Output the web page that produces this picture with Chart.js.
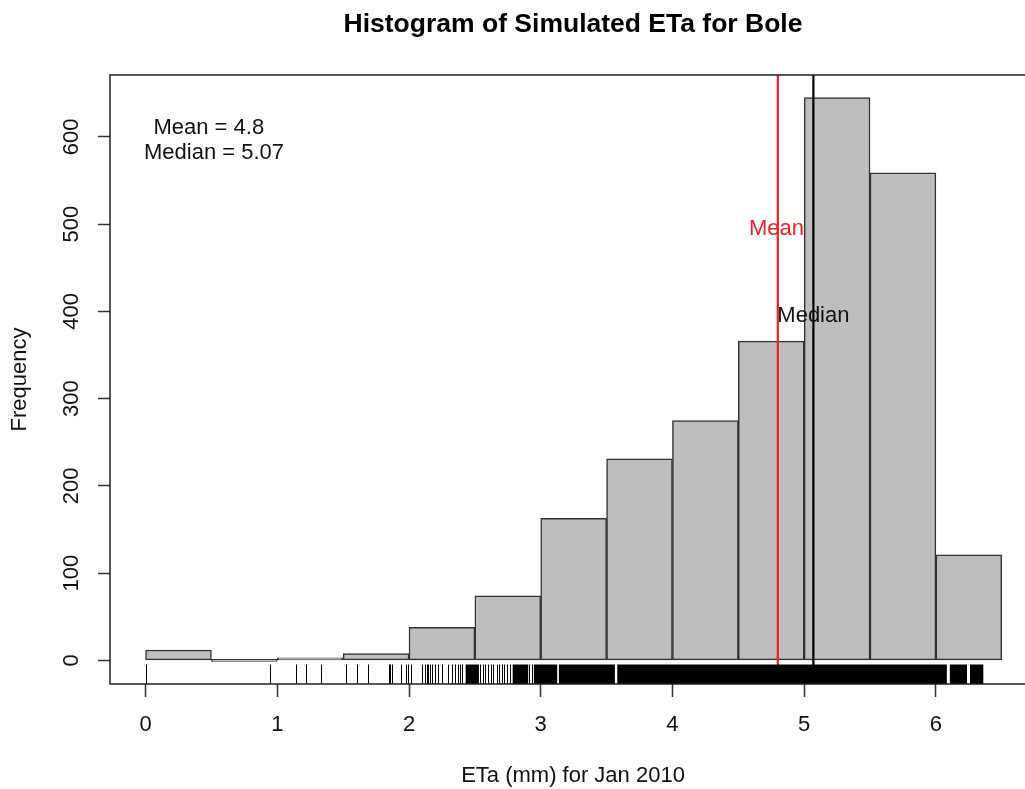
<!DOCTYPE html>
<html>
<head>
    <meta charset="utf-8">
    <title>Histogram of Simulated ETa for Bole</title>
    <style>
        html, body { margin: 0; padding: 0; overflow: hidden; background: #fff; }
    </style>
</head>
<body>

<canvas id="hist" width="1040" height="789"></canvas>

<script src="https://cdn.jsdelivr.net/npm/chart.js@4.4.0/dist/chart.umd.min.js"></script>
<script>

// histogram bins (mm) and counts
var binEdges = [0, 0.5, 1, 1.5, 2, 2.5, 3, 3.5, 4, 4.5, 5, 5.5, 6, 6.5];
var counts   = [12, 0, 3, 8, 38, 74, 163, 231, 275, 366, 645, 559, 121];

var xTicks = [0, 1, 2, 3, 4, 5, 6];
var yTicks = [0, 100, 200, 300, 400, 500, 600];
var xRange = [-0.27, 6.76];
var yRange = [-27, 671];

var meanValue = 4.8;
var medianValue = 5.07;

// single rug ticks, and stretches where the rug is solid black
var rugTicks = [0.00, 0.946, 1.141, 1.217, 1.331, 1.519, 1.602, 1.686, 1.845, 1.858, 1.873,
    1.939, 1.976, 1.994, 2.014, 2.096, 2.121, 2.134, 2.147, 2.159, 2.172, 2.197, 2.222,
    2.248, 2.298, 2.323, 2.349, 2.374, 2.389, 2.399, 2.538, 2.559, 2.579, 2.601, 2.620,
    2.640, 2.665, 2.685, 2.703, 2.723, 2.741, 2.766, 2.913, 2.931];
var rugBands = [[2.43, 2.531], [2.787, 2.905], [2.948, 3.125], [3.138, 3.563],
    [3.581, 6.083], [6.106, 6.236], [6.259, 6.36]];

// text written on the plot (y = middle of the capitals)
var noteTexts  = ['Mean = 4.8', 'Median = 5.07', 'Mean', 'Median'];
var noteX      = [0.48, 0.52, 4.79, 5.07];
var noteY      = [612.7, 583.5, 497, 397];
var noteColors = ['#111', '#111', '#ee2222', '#111'];

var titleText = 'Histogram of Simulated ETa for Bole';

var FONT = "'Liberation Sans', Arial, sans-serif";

var barData = [];
for (var i = 0; i < counts.length; i++) {
    barData.push({x: (binEdges[i] + binEdges[i + 1]) / 2, y: counts[i]});
}

var extrasPlugin = {
    id: 'extras',
    afterDatasetsDraw: function(chart) {
        var ctx = chart.ctx;
        var xs = chart.scales.x, ys = chart.scales.y;
        var a = chart.chartArea;
        var rugLen = (a.bottom - a.top) * 0.032;

        ctx.save();
        // rug
        ctx.fillStyle = '#000';
        rugBands.forEach(function(b) {
            var x1 = xs.getPixelForValue(b[0]), x2 = xs.getPixelForValue(b[1]);
            ctx.fillRect(x1, a.bottom - rugLen, x2 - x1, rugLen);
        });
        ctx.strokeStyle = '#000';
        ctx.lineWidth = 1;
        rugTicks.forEach(function(v) {
            var x = Math.round(xs.getPixelForValue(v)) + 0.5;
            ctx.beginPath();
            ctx.moveTo(x, a.bottom);
            ctx.lineTo(x, a.bottom - rugLen);
            ctx.stroke();
        });

        // notes
        ctx.font = '22px ' + FONT;
        ctx.textAlign = 'center';
        ctx.textBaseline = 'alphabetic';
        for (var k = 0; k < noteTexts.length; k++) {
            ctx.fillStyle = noteColors[k];
            ctx.fillText(noteTexts[k], xs.getPixelForValue(noteX[k]), ys.getPixelForValue(noteY[k]) + 8);
        }

        // box round the plot
        ctx.strokeStyle = '#222';
        ctx.lineWidth = 1.5;
        ctx.strokeRect(a.left, a.top, a.right - a.left, a.bottom - a.top);

        // main title, centred over the plot region
        ctx.fillStyle = '#000';
        ctx.font = 'bold 26.5px ' + FONT;
        ctx.fillText(titleText, (a.left + a.right) / 2, 31.7);
        ctx.restore();
    }
};

var ctx = document.getElementById('hist');
var chartGraph = new Chart(ctx, {
    type: 'bar',
    data: {
        datasets: [{
            type: 'line',
            data: [{x: meanValue, y: yRange[0]}, {x: meanValue, y: yRange[1]}],
            borderColor: '#ee2222',
            borderWidth: 2.2,
            pointRadius: 0,
            order: 1
        }, {
            type: 'line',
            data: [{x: medianValue, y: yRange[0]}, {x: medianValue, y: yRange[1]}],
            borderColor: '#000',
            borderWidth: 2.2,
            pointRadius: 0,
            order: 1
        }, {
            label: 'Frequency',
            data: barData,
            backgroundColor: '#bebebe',
            borderColor: '#333',
            borderWidth: 1.5,
            borderSkipped: false,
            minBarLength: 2,
            barPercentage: 1,
            categoryPercentage: 1,
            order: 2
        }]
    },
    options: {
        responsive: false,
        animation: false,
        devicePixelRatio: 1,
        layout: { padding: { left: 0, right: 4, top: 75, bottom: 0 } },
        plugins: {
            legend: { display: false },
            tooltip: { enabled: false },
            title: { display: false }
        },
        scales: {
            x: {
                type: 'linear',
                min: xRange[0],
                max: xRange[1],
                offset: false,
                afterBuildTicks: function(scale) {
                    scale.ticks = xTicks.map(function(v) { return {value: v}; });
                },
                afterFit: function(scale) { scale.height = 105; },
                grid: { offset: false, drawOnChartArea: false, drawTicks: true, tickLength: 13, tickColor: '#333', tickWidth: 1.5 },
                border: { display: false },
                ticks: {
                    minRotation: 0, maxRotation: 0, padding: 15, color: '#111',
                    font: { family: FONT, size: 22 }
                },
                title: {
                    display: true, text: 'ETa (mm) for Jan 2010', color: '#111',
                    font: { family: FONT, size: 22 }, padding: { top: 0, bottom: 0 }
                }
            },
            y: {
                type: 'linear',
                min: yRange[0],
                max: yRange[1],
                afterBuildTicks: function(scale) {
                    scale.ticks = yTicks.map(function(v) { return {value: v}; });
                },
                afterFit: function(scale) { scale.width = 110; },
                grid: { drawOnChartArea: false, drawTicks: true, tickLength: 12, tickColor: '#333', tickWidth: 1.5 },
                border: { display: false },
                ticks: {
                    minRotation: 90, maxRotation: 90, crossAlign: 'center', padding: 8, color: '#111',
                    font: { family: FONT, size: 22 }
                },
                title: {
                    display: true, text: 'Frequency', color: '#111',
                    font: { family: FONT, size: 22 }, padding: { top: 7, bottom: 0 }
                }
            }
        }
    },
    plugins: [extrasPlugin]
});
</script>

</body>
</html>
